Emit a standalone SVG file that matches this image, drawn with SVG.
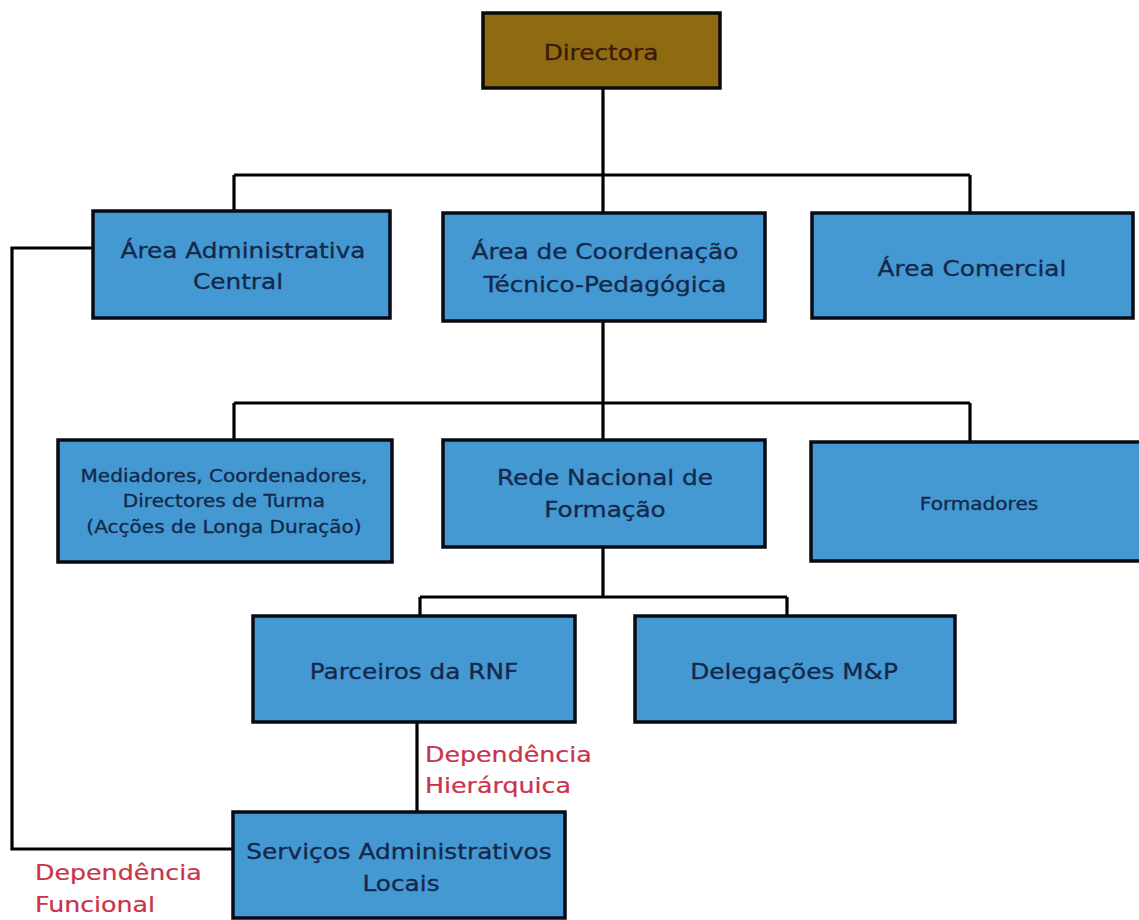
<svg xmlns="http://www.w3.org/2000/svg" width="1139" height="920" viewBox="0 0 1139 920">
<style>
.box{fill:#4499d3;stroke:#0a0a14;stroke-width:3.5}
.top{fill:#8e6a12;stroke:#0a0a0a;stroke-width:3.5}
.t{font-family:"DejaVu Sans",Verdana,sans-serif;font-size:21px;fill:#14284a;stroke:#14284a;stroke-width:0.3;text-anchor:middle}
.s{font-size:17px}
.r{font-family:"DejaVu Sans",Verdana,sans-serif;fill:#c8344a;stroke:#c8344a;stroke-width:0.25;font-size:22px}
.c{fill:none;stroke:#000;stroke-width:3.2}
</style>
<rect width="1139" height="920" fill="#fff"/>
<g id="connectors">
<path class="c" d="M603 88V175M234 175H970M234 175V211M603 175V213M970 175V213"/>
<path class="c" d="M603 321V403M234 403H970M234 403V440M603 403V440M970 403V442"/>
<path class="c" d="M603 547V597M420 597H787M420 597V616M787 597V616"/>
<path class="c" d="M417 722V812"/>
<path class="c" d="M93 248H12V849H233"/>
</g>
<g id="directora">
<rect class="top" x="483" y="13" width="237" height="75"/>
<text class="t" transform="translate(601 60) scale(1.18 1)" style="fill:#3a1a0a;stroke:#3a1a0a">Directora</text>
</g>
<g id="area-admin">
<rect class="box" x="93" y="211" width="297" height="107"/>
<text class="t" transform="translate(243 258) scale(1.18 1)">Área Administrativa</text>
<text class="t" transform="translate(238 289) scale(1.18 1)">Central</text>
</g>
<g id="area-coord">
<rect class="box" x="443" y="213" width="322" height="108"/>
<text class="t" transform="translate(605 259) scale(1.18 1)">Área de Coordenação</text>
<text class="t" transform="translate(605 292) scale(1.18 1)">Técnico-Pedagógica</text>
</g>
<g id="area-comercial">
<rect class="box" x="812" y="213" width="321" height="105"/>
<text class="t" transform="translate(972 276) scale(1.18 1)">Área Comercial</text>
</g>
<g id="mediadores">
<rect class="box" x="58" y="440" width="334" height="122"/>
<text class="t s" transform="translate(224 482) scale(1.18 1)">Mediadores, Coordenadores,</text>
<text class="t s" transform="translate(224 507) scale(1.18 1)">Directores de Turma</text>
<text class="t s" transform="translate(224 533) scale(1.18 1)">(Acções de Longa Duração)</text>
</g>
<g id="rede-nacional">
<rect class="box" x="443" y="440" width="322" height="107"/>
<text class="t" transform="translate(605 485) scale(1.18 1)">Rede Nacional de</text>
<text class="t" transform="translate(605 517) scale(1.18 1)">Formação</text>
</g>
<g id="formadores">
<rect class="box" x="811" y="442" width="330" height="119"/>
<text class="t s" transform="translate(979 510) scale(1.18 1)">Formadores</text>
</g>
<g id="parceiros">
<rect class="box" x="253" y="616" width="322" height="106"/>
<text class="t" transform="translate(414 679) scale(1.18 1)">Parceiros da RNF</text>
</g>
<g id="delegacoes">
<rect class="box" x="635" y="616" width="320" height="106"/>
<text class="t" transform="translate(794 679) scale(1.18 1)">Delegações M&amp;P</text>
</g>
<g id="servicos">
<rect class="box" x="233" y="812" width="332" height="106"/>
<text class="t" transform="translate(399 859) scale(1.18 1)">Serviços Administrativos</text>
<text class="t" transform="translate(401 891) scale(1.18 1)">Locais</text>
</g>
<g id="labels">
<text class="r" transform="translate(425 762) scale(1.15 1)">Dependência</text>
<text class="r" transform="translate(425 793) scale(1.15 1)">Hierárquica</text>
<text class="r" transform="translate(35 880) scale(1.15 1)">Dependência</text>
<text class="r" transform="translate(35 912) scale(1.15 1)">Funcional</text>
</g>
</svg>
